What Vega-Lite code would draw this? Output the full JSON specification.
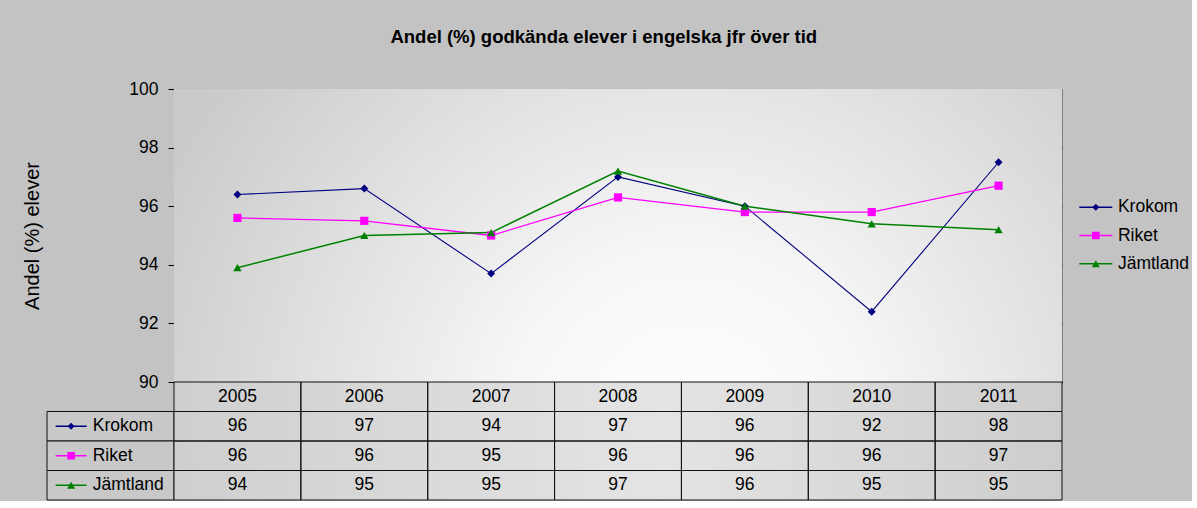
{
  "$schema": "https://vega.github.io/schema/vega-lite/v6.json",
  "background": "#c3c3c3",
  "padding": {"left": 21, "top": 28, "right": 0, "bottom": 0},
  "title": {"text": "Andel (%) godkända elever i engelska jfr över tid", "font": "Liberation Sans", "fontSize": 18.5, "fontWeight": "bold", "color": "#000", "anchor": "middle", "offset": 33, "dx": -3},
  "data": {"values": [
    {"series": "Krokom", "year": "2005", "value": 96.4},
    {"series": "Krokom", "year": "2006", "value": 96.6},
    {"series": "Krokom", "year": "2007", "value": 93.7},
    {"series": "Krokom", "year": "2008", "value": 97.0},
    {"series": "Krokom", "year": "2009", "value": 96.0},
    {"series": "Krokom", "year": "2010", "value": 92.4},
    {"series": "Krokom", "year": "2011", "value": 97.5},
    {"series": "Riket", "year": "2005", "value": 95.6},
    {"series": "Riket", "year": "2006", "value": 95.5},
    {"series": "Riket", "year": "2007", "value": 95.0},
    {"series": "Riket", "year": "2008", "value": 96.3},
    {"series": "Riket", "year": "2009", "value": 95.8},
    {"series": "Riket", "year": "2010", "value": 95.8},
    {"series": "Riket", "year": "2011", "value": 96.7},
    {"series": "Jämtland", "year": "2005", "value": 93.9},
    {"series": "Jämtland", "year": "2006", "value": 95.0},
    {"series": "Jämtland", "year": "2007", "value": 95.1},
    {"series": "Jämtland", "year": "2008", "value": 97.2},
    {"series": "Jämtland", "year": "2009", "value": 96.0},
    {"series": "Jämtland", "year": "2010", "value": 95.4},
    {"series": "Jämtland", "year": "2011", "value": 95.2}
  ]},
  "columns": 3,
  "bounds": "flush",
  "align": "each",
  "spacing": 0,
  "resolve": {
    "scale": {"color": "independent", "shape": "independent", "size": "independent", "strokeWidth": "independent", "x": "independent", "y": "independent"},
    "legend": {"color": "independent", "shape": "independent", "size": "independent", "strokeWidth": "independent"}
  },
  "concat": [
    {
      "width": 127, "height": 293,
      "data": {"values": []},
      "mark": {"type": "point", "opacity": 0},
      "encoding": {}
    },
    {
      "width": 888, "height": 293,
      "view": {"stroke": "#808080", "strokeWidth": 1},
      "layer": [
        {
          "data": {"values": [{}]},
          "mark": {"type": "rect", "fill": {"gradient": "radial", "x1": 0.58, "y1": 0.72, "r1": 0, "x2": 0.58, "y2": 0.72, "r2": 0.66, "stops": [{"offset": 0, "color": "#ffffff"}, {"offset": 0.3, "color": "#f7f7f7"}, {"offset": 1, "color": "#cacaca"}]}},
          "encoding": {}
        },
        {
          "mark": {"type": "line"},
          "encoding": {
            "x": {"field": "year", "type": "ordinal", "scale": {"type": "point", "padding": 0.5}, "axis": {"domain": true, "domainColor": "#000", "domainWidth": 2, "labels": false, "ticks": false, "title": null, "grid": false}},
            "y": {"field": "value", "type": "quantitative", "title": "Andel (%) elever", "scale": {"domain": [90, 100], "zero": false, "nice": false},
              "axis": {"values": [90, 92, 94, 96, 98, 100], "grid": true, "gridColor": {"condition": {"test": "datum.value === 100", "value": "#808080"}, "value": "#111111"}, "gridWidth": 1, "domain": true, "domainColor": "#000", "domainWidth": 1, "ticks": true, "tickSize": 6, "tickColor": "#000", "tickWidth": 1, "labelFont": "Liberation Sans", "labelFontSize": 17.5, "labelColor": "#000", "labelPadding": 10, "minExtent": 46, "maxExtent": 46, "titleFont": "Liberation Sans", "titleFontSize": 20, "titleFontWeight": "normal", "titleColor": "#000", "titlePadding": 86}},
            "color": {"field": "series", "type": "nominal", "scale": {"domain": ["Krokom", "Riket", "Jämtland"], "range": ["#000080", "#ff00ff", "#008000"]}, "legend": null},
            "strokeWidth": {"field": "series", "type": "nominal", "scale": {"domain": ["Krokom", "Riket", "Jämtland"], "range": [1.1, 1.5, 1.3]}, "legend": null}
          }
        },
        {
          "mark": {"type": "point", "filled": true, "opacity": 1},
          "encoding": {
            "x": {"field": "year", "type": "ordinal", "scale": {"type": "point", "padding": 0.5}, "axis": {"domain": true, "domainColor": "#000", "domainWidth": 2, "labels": false, "ticks": false, "title": null, "grid": false}},
            "y": {"field": "value", "type": "quantitative", "title": "Andel (%) elever", "scale": {"domain": [90, 100], "zero": false, "nice": false}},
            "color": {"field": "series", "type": "nominal", "scale": {"domain": ["Krokom", "Riket", "Jämtland"], "range": ["#000080", "#ff00ff", "#008000"]}, "legend": null},
            "shape": {"field": "series", "type": "nominal", "scale": {"domain": ["Krokom", "Riket", "Jämtland"], "range": ["diamond", "square", "triangle-up"]}, "legend": null},
            "size": {"field": "series", "type": "nominal", "scale": {"domain": ["Krokom", "Riket", "Jämtland"], "range": [64, 70, 81]}, "legend": null}
          }
        }
      ]
    },
    {
      "width": 130, "height": 293,
      "transform": [{"filter": "datum.year === '2005'"}],
      "layer": [
        {
          "mark": {"type": "point", "shape": "stroke", "filled": false, "size": 1089, "strokeWidth": 1.5, "opacity": 1},
          "encoding": {
            "x": {"datum": "lg", "type": "nominal", "bandPosition": 0.26, "scale": {"type": "band", "domain": ["lg"], "paddingInner": 0, "paddingOuter": 0}, "axis": null},
            "y": {"field": "series", "type": "nominal", "scale": {"type": "band", "domain": ["p1", "p2", "p3", "Krokom", "Riket", "Jämtland", "p4", "p5", "p6"], "paddingInner": 0, "paddingOuter": 0.7}, "axis": null},
            "color": {"field": "series", "type": "nominal", "scale": {"domain": ["Krokom", "Riket", "Jämtland"], "range": ["#000080", "#ff00ff", "#008000"]}, "legend": null}
          }
        },
        {
          "mark": {"type": "point", "filled": true, "opacity": 1},
          "encoding": {
            "x": {"datum": "lg", "type": "nominal", "bandPosition": 0.26, "scale": {"type": "band", "domain": ["lg"], "paddingInner": 0, "paddingOuter": 0}, "axis": null},
            "y": {"field": "series", "type": "nominal", "scale": {"type": "band", "domain": ["p1", "p2", "p3", "Krokom", "Riket", "Jämtland", "p4", "p5", "p6"], "paddingInner": 0, "paddingOuter": 0.7}, "axis": null},
            "color": {"field": "series", "type": "nominal", "scale": {"domain": ["Krokom", "Riket", "Jämtland"], "range": ["#000080", "#ff00ff", "#008000"]}, "legend": null},
            "shape": {"field": "series", "type": "nominal", "scale": {"domain": ["Krokom", "Riket", "Jämtland"], "range": ["diamond", "square", "triangle-up"]}, "legend": null},
            "size": {"field": "series", "type": "nominal", "scale": {"domain": ["Krokom", "Riket", "Jämtland"], "range": [50, 64, 70]}, "legend": null}
          }
        },
        {
          "mark": {"type": "text", "align": "left", "baseline": "middle", "font": "Liberation Sans", "fontSize": 17.5, "color": "#000"},
          "encoding": {
            "x": {"datum": "lg", "type": "nominal", "bandPosition": 0.43, "scale": {"type": "band", "domain": ["lg"], "paddingInner": 0, "paddingOuter": 0}, "axis": null},
            "y": {"field": "series", "type": "nominal", "scale": {"type": "band", "domain": ["p1", "p2", "p3", "Krokom", "Riket", "Jämtland", "p4", "p5", "p6"], "paddingInner": 0, "paddingOuter": 0.7}, "axis": null},
            "text": {"field": "series", "type": "nominal"}
          }
        }
      ]
    },
    {
      "width": 127, "height": 118,
      "transform": [{"filter": "datum.year === '2005'"}],
      "layer": [
        {
          "mark": {"type": "rect", "fill": "#c8c8c8", "stroke": "#111111", "strokeWidth": 1},
          "encoding": {
            "y": {"field": "series", "type": "nominal", "scale": {"domain": ["År", "Krokom", "Riket", "Jämtland"], "paddingInner": 0, "paddingOuter": 0}, "axis": null}
          }
        },
        {
          "mark": {"type": "point", "shape": "stroke", "filled": false, "size": 961, "strokeWidth": 1.5, "opacity": 1},
          "encoding": {
            "x": {"datum": "hdr", "type": "nominal", "bandPosition": 0.19, "scale": {"type": "band", "domain": ["hdr"], "paddingInner": 0, "paddingOuter": 0}, "axis": null},
            "y": {"field": "series", "type": "nominal", "scale": {"domain": ["År", "Krokom", "Riket", "Jämtland"], "paddingInner": 0, "paddingOuter": 0}, "axis": null},
            "color": {"field": "series", "type": "nominal", "scale": {"domain": ["Krokom", "Riket", "Jämtland"], "range": ["#000080", "#ff00ff", "#008000"]}, "legend": null}
          }
        },
        {
          "mark": {"type": "point", "filled": true, "opacity": 1},
          "encoding": {
            "x": {"datum": "hdr", "type": "nominal", "bandPosition": 0.19, "scale": {"type": "band", "domain": ["hdr"], "paddingInner": 0, "paddingOuter": 0}, "axis": null},
            "y": {"field": "series", "type": "nominal", "scale": {"domain": ["År", "Krokom", "Riket", "Jämtland"], "paddingInner": 0, "paddingOuter": 0}, "axis": null},
            "color": {"field": "series", "type": "nominal", "scale": {"domain": ["Krokom", "Riket", "Jämtland"], "range": ["#000080", "#ff00ff", "#008000"]}, "legend": null},
            "shape": {"field": "series", "type": "nominal", "scale": {"domain": ["Krokom", "Riket", "Jämtland"], "range": ["diamond", "square", "triangle-up"]}, "legend": null},
            "size": {"field": "series", "type": "nominal", "scale": {"domain": ["Krokom", "Riket", "Jämtland"], "range": [50, 64, 70]}, "legend": null}
          }
        },
        {
          "mark": {"type": "text", "align": "left", "baseline": "middle", "font": "Liberation Sans", "fontSize": 17.5, "color": "#000"},
          "encoding": {
            "x": {"datum": "hdr", "type": "nominal", "bandPosition": 0.36, "scale": {"type": "band", "domain": ["hdr"], "paddingInner": 0, "paddingOuter": 0}, "axis": null},
            "y": {"field": "series", "type": "nominal", "scale": {"domain": ["År", "Krokom", "Riket", "Jämtland"], "paddingInner": 0, "paddingOuter": 0}, "axis": null},
            "text": {"field": "series", "type": "nominal"}
          }
        }
      ]
    },
    {
      "width": 888, "height": 118,
      "layer": [
        {
          "data": {"values": [{}]},
          "mark": {"type": "rect", "fill": {"gradient": "linear", "x1": 0, "y1": 0, "x2": 1, "y2": 0, "stops": [{"offset": 0, "color": "#cfcfcf"}, {"offset": 0.55, "color": "#e4e4e4"}, {"offset": 1, "color": "#cdcdcd"}]}},
          "encoding": {}
        },
        {
          "mark": {"type": "rect", "fill": "transparent", "stroke": "#111111", "strokeWidth": 1},
          "encoding": {
            "x": {"field": "year", "type": "ordinal", "scale": {"type": "band", "paddingInner": 0, "paddingOuter": 0}, "axis": null},
            "y": {"field": "series", "type": "nominal", "scale": {"domain": ["År", "Krokom", "Riket", "Jämtland"], "paddingInner": 0, "paddingOuter": 0}, "axis": null}
          }
        },
        {
          "transform": [{"filter": "datum.series === 'Krokom'"}],
          "mark": {"type": "rect", "fill": "transparent", "stroke": "#111111", "strokeWidth": 1},
          "encoding": {
            "x": {"field": "year", "type": "ordinal", "scale": {"type": "band", "paddingInner": 0, "paddingOuter": 0}, "axis": null},
            "y": {"datum": "År", "type": "nominal", "scale": {"domain": ["År", "Krokom", "Riket", "Jämtland"], "paddingInner": 0, "paddingOuter": 0}, "axis": null}
          }
        },
        {
          "mark": {"type": "text", "align": "center", "baseline": "middle", "font": "Liberation Sans", "fontSize": 17.5, "color": "#000"},
          "encoding": {
            "x": {"field": "year", "type": "ordinal", "scale": {"type": "band", "paddingInner": 0, "paddingOuter": 0}, "axis": null},
            "y": {"field": "series", "type": "nominal", "scale": {"domain": ["År", "Krokom", "Riket", "Jämtland"], "paddingInner": 0, "paddingOuter": 0}, "axis": null},
            "text": {"field": "value", "type": "quantitative", "format": ".0f"}
          }
        },
        {
          "transform": [{"filter": "datum.series === 'Krokom'"}],
          "mark": {"type": "text", "align": "center", "baseline": "middle", "font": "Liberation Sans", "fontSize": 17.5, "color": "#000"},
          "encoding": {
            "x": {"field": "year", "type": "ordinal", "scale": {"type": "band", "paddingInner": 0, "paddingOuter": 0}, "axis": null},
            "y": {"datum": "År", "type": "nominal", "scale": {"domain": ["År", "Krokom", "Riket", "Jämtland"], "paddingInner": 0, "paddingOuter": 0}, "axis": null},
            "text": {"field": "year", "type": "nominal"}
          }
        }
      ]
    }
  ],
  "config": {
    "view": {"stroke": null},
    "font": "Liberation Sans"
  }
}
